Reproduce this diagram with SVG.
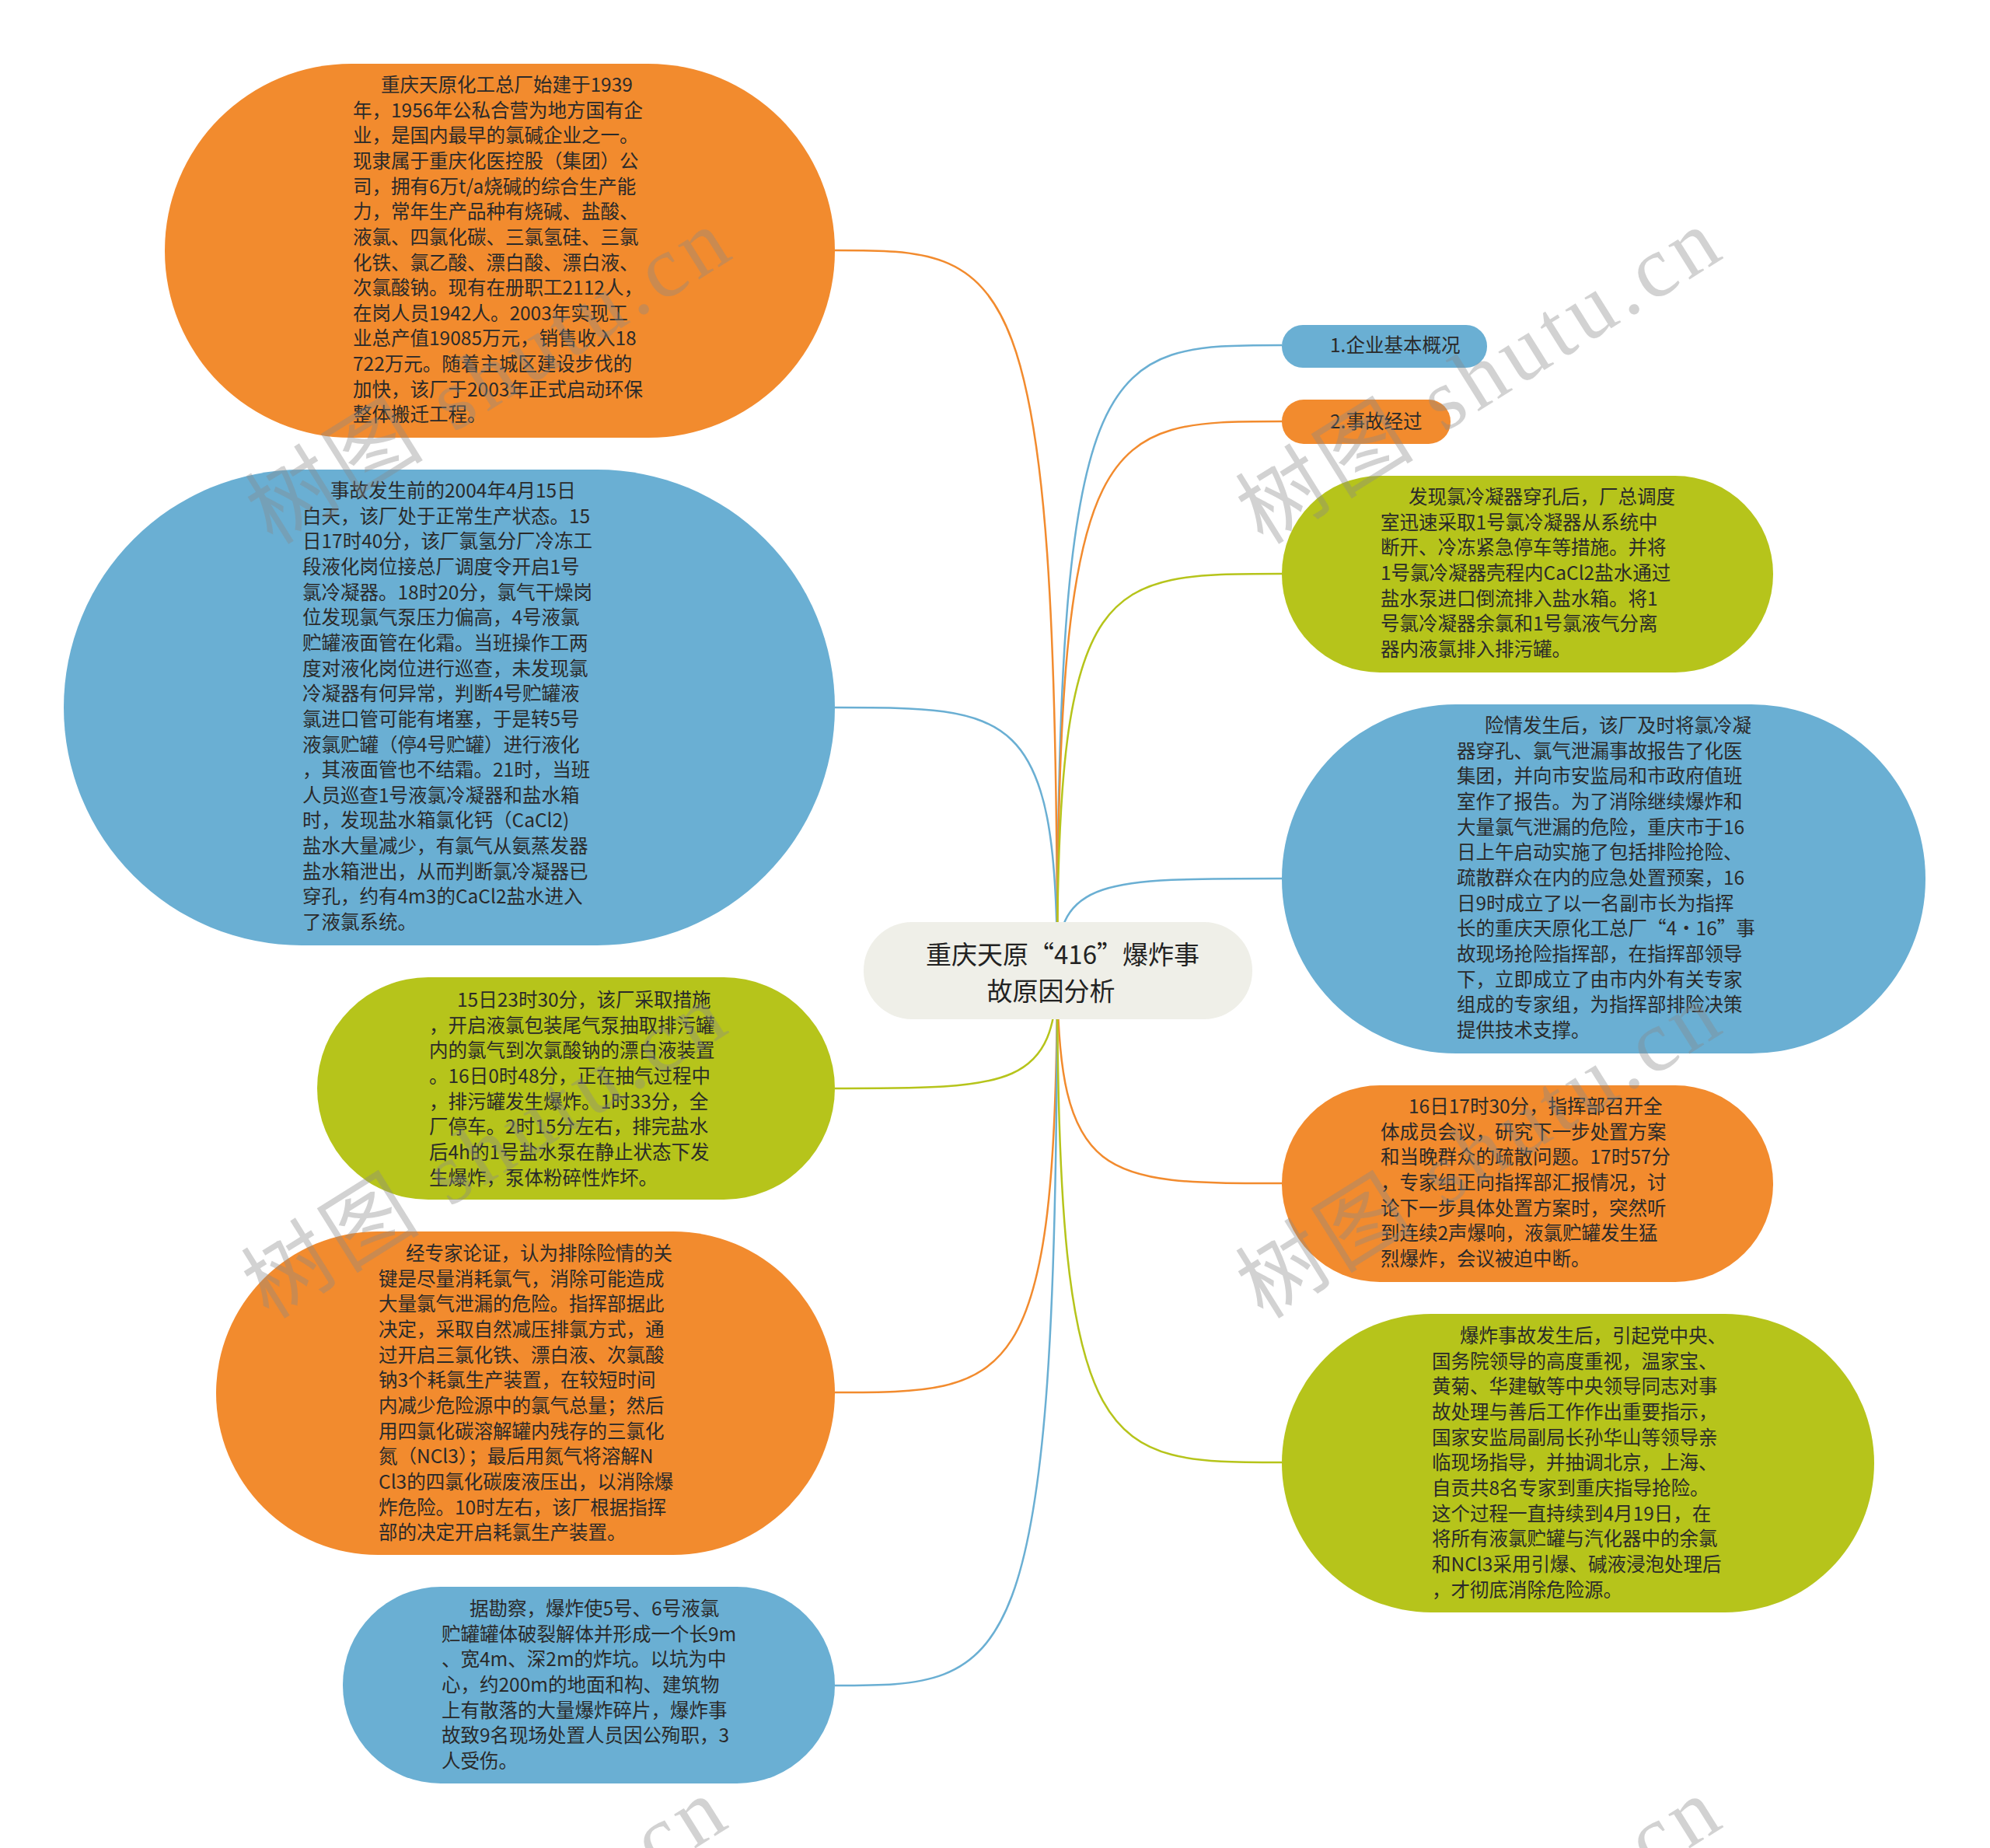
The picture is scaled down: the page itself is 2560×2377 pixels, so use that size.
<svg xmlns="http://www.w3.org/2000/svg" width="2560" height="2377" viewBox="0 0 2560 2377">
<style>
.t{font-family:"Noto Sans CJK SC","Microsoft YaHei",sans-serif;font-size:24.5px;fill:#2a2a2a}
.root{font-family:"Noto Sans CJK SC","Microsoft YaHei",sans-serif;font-size:33px;fill:#222;text-anchor:middle}
.or{fill:#f28b2e}.bl{fill:#6aafd3}.gr{fill:#b6c41b}.ce{fill:#efefe8}
.c{fill:none;stroke-width:2.5}
.co{stroke:#f28b2e}.cb{stroke:#6aafd3}.cg{stroke:#b6c41b}
.wm{font-family:"Liberation Serif","Noto Sans CJK SC",serif;font-size:112px;fill:#8a8a8a;fill-opacity:0.38}
</style>
<g id="connectors">
<path class="c co" d="M1360,1246 C1360,322 1300,322 1074,322"/>
<path class="c cb" d="M1360,1246 C1360,910 1300,910 1074,910"/>
<path class="c cg" d="M1360,1246 C1360,1400 1300,1400 1074,1400"/>
<path class="c co" d="M1360,1246 C1360,1791 1300,1791 1074,1791"/>
<path class="c cb" d="M1360,1246 C1360,2168 1300,2168 1074,2168"/>
<path class="c cb" d="M1360,1246 C1360,444 1420,444 1649,444"/>
<path class="c co" d="M1360,1246 C1360,542 1420,542 1649,542"/>
<path class="c cg" d="M1360,1246 C1360,738 1420,738 1649,738"/>
<path class="c cb" d="M1360,1246 C1360,1130 1420,1130 1649,1130"/>
<path class="c co" d="M1360,1246 C1360,1522 1420,1522 1649,1522"/>
<path class="c cg" d="M1360,1246 C1360,1881 1420,1881 1649,1881"/>
</g>
<g id="root">
<rect class="ce" x="1111" y="1186" width="500" height="125" rx="62"/>
<text class="root"><tspan x="1367" y="1240">重庆天原“416”爆炸事</tspan><tspan x="1352" y="1287">故原因分析</tspan></text>
</g>
<g id="n-a">
<rect class="or" x="212" y="82" width="862" height="481" rx="240"/>
<text class="t"><tspan x="490" y="118">重庆天原化工总厂始建于1939</tspan><tspan x="454" dy="32.65">年，1956年公私合营为地方国有企</tspan><tspan x="454" dy="32.65">业，是国内最早的氯碱企业之一。</tspan><tspan x="454" dy="32.65">现隶属于重庆化医控股（集团）公</tspan><tspan x="454" dy="32.65">司，拥有6万t/a烧碱的综合生产能</tspan><tspan x="454" dy="32.65">力，常年生产品种有烧碱、盐酸、</tspan><tspan x="454" dy="32.65">液氯、四氯化碳、三氯氢硅、三氯</tspan><tspan x="454" dy="32.65">化铁、氯乙酸、漂白酸、漂白液、</tspan><tspan x="454" dy="32.65">次氯酸钠。现有在册职工2112人，</tspan><tspan x="454" dy="32.65">在岗人员1942人。2003年实现工</tspan><tspan x="454" dy="32.65">业总产值19085万元，销售收入18</tspan><tspan x="454" dy="32.65">722万元。随着主城区建设步伐的</tspan><tspan x="454" dy="32.65">加快，该厂于2003年正式启动环保</tspan><tspan x="454" dy="32.65">整体搬迁工程。</tspan></text>
</g>
<g id="n-b">
<rect class="bl" x="82" y="604" width="992" height="612" rx="306"/>
<text class="t"><tspan x="425" y="640">事故发生前的2004年4月15日</tspan><tspan x="389" dy="32.65">白天，该厂处于正常生产状态。15</tspan><tspan x="389" dy="32.65">日17时40分，该厂氯氢分厂冷冻工</tspan><tspan x="389" dy="32.65">段液化岗位接总厂调度令开启1号</tspan><tspan x="389" dy="32.65">氯冷凝器。18时20分，氯气干燥岗</tspan><tspan x="389" dy="32.65">位发现氯气泵压力偏高，4号液氯</tspan><tspan x="389" dy="32.65">贮罐液面管在化霜。当班操作工两</tspan><tspan x="389" dy="32.65">度对液化岗位进行巡查，未发现氯</tspan><tspan x="389" dy="32.65">冷凝器有何异常，判断4号贮罐液</tspan><tspan x="389" dy="32.65">氯进口管可能有堵塞，于是转5号</tspan><tspan x="389" dy="32.65">液氯贮罐（停4号贮罐）进行液化</tspan><tspan x="389" dy="32.65">，其液面管也不结霜。21时，当班</tspan><tspan x="389" dy="32.65">人员巡查1号液氯冷凝器和盐水箱</tspan><tspan x="389" dy="32.65">时，发现盐水箱氯化钙（CaCl2)</tspan><tspan x="389" dy="32.65">盐水大量减少，有氯气从氨蒸发器</tspan><tspan x="389" dy="32.65">盐水箱泄出，从而判断氯冷凝器已</tspan><tspan x="389" dy="32.65">穿孔，约有4m3的CaCl2盐水进入</tspan><tspan x="389" dy="32.65">了液氯系统。</tspan></text>
</g>
<g id="n-c">
<rect class="gr" x="408" y="1257" width="666" height="286" rx="143"/>
<text class="t"><tspan x="588" y="1295">15日23时30分，该厂采取措施</tspan><tspan x="552" dy="32.65">，开启液氯包装尾气泵抽取排污罐</tspan><tspan x="552" dy="32.65">内的氯气到次氯酸钠的漂白液装置</tspan><tspan x="552" dy="32.65">。16日0时48分，正在抽气过程中</tspan><tspan x="552" dy="32.65">，排污罐发生爆炸。1时33分，全</tspan><tspan x="552" dy="32.65">厂停车。2时15分左右，排完盐水</tspan><tspan x="552" dy="32.65">后4h的1号盐水泵在静止状态下发</tspan><tspan x="552" dy="32.65">生爆炸，泵体粉碎性炸坏。</tspan></text>
</g>
<g id="n-d">
<rect class="or" x="278" y="1584" width="796" height="416" rx="208"/>
<text class="t"><tspan x="522" y="1621">经专家论证，认为排除险情的关</tspan><tspan x="487" dy="32.65">键是尽量消耗氯气，消除可能造成</tspan><tspan x="487" dy="32.65">大量氯气泄漏的危险。指挥部据此</tspan><tspan x="487" dy="32.65">决定，采取自然减压排氯方式，通</tspan><tspan x="487" dy="32.65">过开启三氯化铁、漂白液、次氯酸</tspan><tspan x="487" dy="32.65">钠3个耗氯生产装置，在较短时间</tspan><tspan x="487" dy="32.65">内减少危险源中的氯气总量；然后</tspan><tspan x="487" dy="32.65">用四氯化碳溶解罐内残存的三氯化</tspan><tspan x="487" dy="32.65">氮（NCl3）；最后用氮气将溶解N</tspan><tspan x="487" dy="32.65">Cl3的四氯化碳废液压出，以消除爆</tspan><tspan x="487" dy="32.65">炸危险。10时左右，该厂根据指挥</tspan><tspan x="487" dy="32.65">部的决定开启耗氯生产装置。</tspan></text>
</g>
<g id="n-e">
<rect class="bl" x="441" y="2041" width="633" height="253" rx="126"/>
<text class="t"><tspan x="604" y="2078">据勘察，爆炸使5号、6号液氯</tspan><tspan x="568" dy="32.65">贮罐罐体破裂解体并形成一个长9m</tspan><tspan x="568" dy="32.65">、宽4m、深2m的炸坑。以坑为中</tspan><tspan x="568" dy="32.65">心，约200m的地面和构、建筑物</tspan><tspan x="568" dy="32.65">上有散落的大量爆炸碎片，爆炸事</tspan><tspan x="568" dy="32.65">故致9名现场处置人员因公殉职，3</tspan><tspan x="568" dy="32.65">人受伤。</tspan></text>
</g>
<g id="n-f">
<rect class="bl" x="1649" y="418" width="264" height="55" rx="27"/>
<text class="t" x="1711" y="453">1.企业基本概况</text>
</g>
<g id="n-g">
<rect class="or" x="1649" y="514" width="217" height="57" rx="28"/>
<text class="t" x="1711" y="551">2.事故经过</text>
</g>
<g id="n-h">
<rect class="gr" x="1649" y="612" width="632" height="253" rx="126"/>
<text class="t"><tspan x="1812" y="648">发现氯冷凝器穿孔后，厂总调度</tspan><tspan x="1776" dy="32.65">室迅速采取1号氯冷凝器从系统中</tspan><tspan x="1776" dy="32.65">断开、冷冻紧急停车等措施。并将</tspan><tspan x="1776" dy="32.65">1号氯冷凝器壳程内CaCl2盐水通过</tspan><tspan x="1776" dy="32.65">盐水泵进口倒流排入盐水箱。将1</tspan><tspan x="1776" dy="32.65">号氯冷凝器余氯和1号氯液气分离</tspan><tspan x="1776" dy="32.65">器内液氯排入排污罐。</tspan></text>
</g>
<g id="n-i">
<rect class="bl" x="1649" y="906" width="828" height="449" rx="224"/>
<text class="t"><tspan x="1910" y="942">险情发生后，该厂及时将氯冷凝</tspan><tspan x="1874" dy="32.65">器穿孔、氯气泄漏事故报告了化医</tspan><tspan x="1874" dy="32.65">集团，并向市安监局和市政府值班</tspan><tspan x="1874" dy="32.65">室作了报告。为了消除继续爆炸和</tspan><tspan x="1874" dy="32.65">大量氯气泄漏的危险，重庆市于16</tspan><tspan x="1874" dy="32.65">日上午启动实施了包括排险抢险、</tspan><tspan x="1874" dy="32.65">疏散群众在内的应急处置预案，16</tspan><tspan x="1874" dy="32.65">日9时成立了以一名副市长为指挥</tspan><tspan x="1874" dy="32.65">长的重庆天原化工总厂“4•16”事</tspan><tspan x="1874" dy="32.65">故现场抢险指挥部，在指挥部领导</tspan><tspan x="1874" dy="32.65">下，立即成立了由市内外有关专家</tspan><tspan x="1874" dy="32.65">组成的专家组，为指挥部排险决策</tspan><tspan x="1874" dy="32.65">提供技术支撑。</tspan></text>
</g>
<g id="n-j">
<rect class="or" x="1649" y="1396" width="632" height="253" rx="126"/>
<text class="t"><tspan x="1812" y="1432">16日17时30分，指挥部召开全</tspan><tspan x="1776" dy="32.65">体成员会议，研究下一步处置方案</tspan><tspan x="1776" dy="32.65">和当晚群众的疏散问题。17时57分</tspan><tspan x="1776" dy="32.65">，专家组正向指挥部汇报情况，讨</tspan><tspan x="1776" dy="32.65">论下一步具体处置方案时，突然听</tspan><tspan x="1776" dy="32.65">到连续2声爆响，液氯贮罐发生猛</tspan><tspan x="1776" dy="32.65">烈爆炸，会议被迫中断。</tspan></text>
</g>
<g id="n-k">
<rect class="gr" x="1649" y="1690" width="762" height="384" rx="192"/>
<text class="t"><tspan x="1878" y="1727">爆炸事故发生后，引起党中央、</tspan><tspan x="1842" dy="32.65">国务院领导的高度重视，温家宝、</tspan><tspan x="1842" dy="32.65">黄菊、华建敏等中央领导同志对事</tspan><tspan x="1842" dy="32.65">故处理与善后工作作出重要指示，</tspan><tspan x="1842" dy="32.65">国家安监局副局长孙华山等领导亲</tspan><tspan x="1842" dy="32.65">临现场指导，并抽调北京，上海、</tspan><tspan x="1842" dy="32.65">自贡共8名专家到重庆指导抢险。</tspan><tspan x="1842" dy="32.65">这个过程一直持续到4月19日，在</tspan><tspan x="1842" dy="32.65">将所有液氯贮罐与汽化器中的余氯</tspan><tspan x="1842" dy="32.65">和NCl3采用引爆、碱液浸泡处理后</tspan><tspan x="1842" dy="32.65">，才彻底消除危险源。</tspan></text>
</g>
<g id="watermarks">
<text class="wm" x="351" y="702" transform="rotate(-32 351 702)" textLength="700" lengthAdjust="spacing">树图 shutu.cn</text>
<text class="wm" x="1625" y="702" transform="rotate(-32 1625 702)" textLength="700" lengthAdjust="spacing">树图 shutu.cn</text>
<text class="wm" x="346" y="1698" transform="rotate(-32 346 1698)" textLength="700" lengthAdjust="spacing">树图 shutu.cn</text>
<text class="wm" x="1625" y="1698" transform="rotate(-32 1625 1698)" textLength="700" lengthAdjust="spacing">树图 shutu.cn</text>
<text class="wm" x="346" y="2720" transform="rotate(-32 346 2720)" textLength="700" lengthAdjust="spacing">树图 shutu.cn</text>
<text class="wm" x="1625" y="2720" transform="rotate(-32 1625 2720)" textLength="700" lengthAdjust="spacing">树图 shutu.cn</text>
</g>
</svg>
